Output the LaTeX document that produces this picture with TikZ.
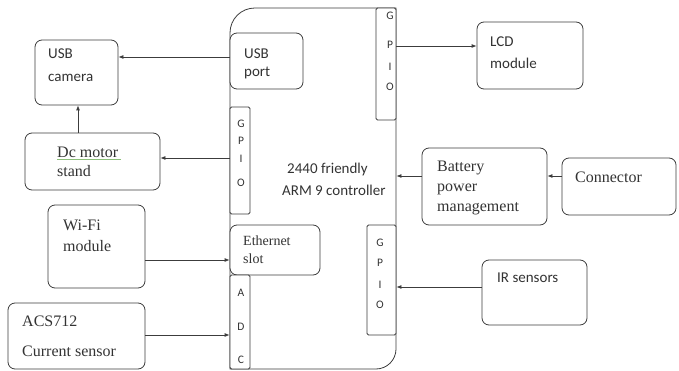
\documentclass[tikz,border=0pt]{standalone}
\usepackage{fontspec}
\setmainfont{Liberation Serif}
\newfontfamily\calfont{Carlito}
\usetikzlibrary{arrows.meta}
\definecolor{linec}{HTML}{3C3C3C}
\definecolor{txtc}{HTML}{333333}
\definecolor{squig}{HTML}{8DBF7A}
\begin{document}
\begin{tikzpicture}[x=1pt,y=-1pt,
  box/.style={draw=linec, line width=0.8pt, rounded corners=7pt, inner sep=0pt, fill=white},
  pinbox/.style={draw=linec, line width=0.8pt, rounded corners=1.5pt, inner sep=0pt, fill=white},
  arr/.style={draw=linec, line width=0.8pt, -{Latex[length=5pt,width=4pt]}},
  sf/.style={font=\calfont\fontsize{15}{18}\selectfont, text=txtc, anchor=west, inner sep=0pt},
  sr/.style={font=\fontsize{16}{19}\selectfont, text=txtc, anchor=west, inner sep=0pt},
  pin/.style={font=\calfont\fontsize{11.5}{13}\selectfont, text=txtc, inner sep=0pt}]
\useasboundingbox (0,0) rectangle (679,371);
% main controller outline
\draw[draw=linec, line width=0.8pt] (230,369) -- (230,33) .. controls (230,19) and (241,8) .. (255,8)
  -- (396,8) -- (396,349) .. controls (396,360) and (387,369) .. (376,369) -- cycle;
% inner blocks
\node[box, minimum width=73pt, minimum height=56pt] (usbport) at (266.5,61) {};
\node[pinbox, minimum width=20pt, minimum height=107pt] (gpioL) at (240,160.5) {};
\node[box, minimum width=90pt, minimum height=50pt] (eth) at (275,250) {};
\node[pinbox, minimum width=20pt, minimum height=94pt] (adc) at (240,322) {};
\node[pinbox, minimum width=20pt, minimum height=112pt] (gpioTR) at (386,64) {};
\node[pinbox, minimum width=29pt, minimum height=110pt] (gpioBR) at (381.5,280) {};
% external blocks
\node[box, minimum width=83pt, minimum height=65pt] (usbcam) at (76.5,72.5) {};
\node[box, minimum width=135pt, minimum height=57pt] (dcm) at (92.5,161.5) {};
\node[box, minimum width=106pt, minimum height=67pt] (lcd) at (530,55.5) {};
\node[box, minimum width=125pt, minimum height=77pt] (batt) at (484.5,186.5) {};
\node[box, minimum width=114pt, minimum height=57pt] (conn) at (619,186.5) {};
\node[box, minimum width=105pt, minimum height=65pt] (ir) at (534.5,292.5) {};
\node[box, minimum width=97pt, minimum height=83pt] (wifi) at (96.5,246.5) {};
\node[box, minimum width=137pt, minimum height=66pt] (acs) at (76.5,336) {};
% texts
\node[sf] (t1) at (48,54) {USB};
\node[sf] (t2) at (48,78) {camera};
\node[sf] (t3) at (244,54) {USB};
\node[sf] (t4) at (244,73) {port};
\node[sr] (t5) at (57,152) {Dc motor};
\draw[squig, line width=0.5pt] (t5.south west) ++(0,1.5) -- ++(64,0);
\node[sr] (t6) at (57,171) {stand};
\node[sf] (t7) at (287,170) {2440 friendly};
\node[sf] (t8) at (282,190) {ARM 9 controller};
\node[sf] (t9) at (490,42) {LCD};
\node[sf] (t10) at (490,63) {module};
\node[sr] (t11) at (437,168) {Battery};
\node[sr] (t12) at (437,189) {power};
\node[sr] (t13) at (437,209) {management};
\node[sr] (t14) at (575,177) {Connector};
\node[sf] (t15) at (497,278) {IR sensors};
\node[sr] (t16) at (63,225) {Wi-Fi};
\node[sr] (t17) at (63,246) {module};
\node[sr, font=\fontsize{14}{17}\selectfont] (t18) at (243,241) {Ethernet};
\node[sr, font=\fontsize{14}{17}\selectfont] (t19) at (243,259) {slot};
\node[sr] (t20) at (22,321) {ACS712};
\node[sr] (t21) at (22,351) {Current sensor};
% pin letters
\node[pin] at (241,124) {G};
\node[pin] at (241,141) {P};
\node[pin] at (241,159) {I};
\node[pin] at (241,183) {O};
\node[pin] at (241,293) {A};
\node[pin] at (241,327) {D};
\node[pin] at (241,360) {C};
\node[pin] at (390,16) {G};
\node[pin] at (390,45) {P};
\node[pin] at (390,67) {I};
\node[pin] at (390,87) {O};
\node[pin] at (380,243) {G};
\node[pin] at (380,263) {P};
\node[pin] at (380,285) {I};
\node[pin] at (380,305) {O};
% connectors
\draw[arr] (usbport.west |- 0,57) -- (usbcam.east |- 0,57);
\draw[arr] (dcm.north -| 78,0) -- (usbcam.south -| 78,0);
\draw[arr] (gpioL.west |- 0,158) -- (dcm.east |- 0,158);
\draw[arr] (gpioTR.east |- 0,46) -- (lcd.west |- 0,46);
\draw[arr] (batt.west |- 0,176) -- (gpioTR.east |- 0,176);
\draw[arr] (conn.west |- 0,176) -- (batt.east |- 0,176);
\draw[arr] (ir.west |- 0,287) -- (gpioBR.east |- 0,287);
\draw[arr] (wifi.east |- 0,260) -- (eth.west |- 0,260);
\draw[arr] (acs.east |- 0,335) -- (adc.west |- 0,335);
\end{tikzpicture}
\end{document}
